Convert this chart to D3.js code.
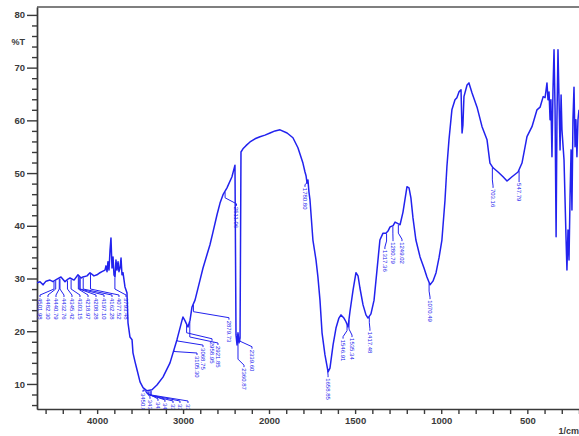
<!DOCTYPE html>
<html>
<head>
<meta charset="utf-8">
<script src="https://cdn.jsdelivr.net/npm/d3@7"></script>
<style>
body { margin: 0; background: #fff; }
text { font-family: "Liberation Sans", Arial, sans-serif; }
</style>
</head>
<body>
<svg id="chart" width="579" height="436"></svg>
<script>
// spectrum (1/cm, %T)
const wavenumbers = [
	4700, 4665, 4630, 4595, 4549, 4514, 4467, 4421, 4374, 4339, 4316, 4269, 4223, 4188, 4165, 4118,
	4083, 4037, 4002, 3967, 3944, 3909, 3897, 3885, 3874, 3862, 3850, 3839, 3827, 3815, 3804, 3792,
	3781, 3769, 3757, 3746, 3734, 3722, 3711, 3699, 3687, 3676, 3653, 3641, 3618, 3594, 3583, 3559,
	3536, 3501, 3466, 3420, 3362, 3304, 3234, 3152, 3071, 3036, 3012, 3001, 2978, 2966, 2943, 2919,
	2896, 2861, 2803, 2768, 2722, 2687, 2652, 2605, 2570, 2535, 2489, 2431, 2396, 2384, 2372, 2361,
	2349, 2337, 2326, 2303, 2268, 2221, 2163, 2105, 2047, 1994, 1965, 1936, 1895, 1861, 1832, 1803,
	1791, 1785, 1779, 1774, 1768, 1762, 1745, 1727, 1716, 1704, 1692, 1675, 1657, 1646, 1628, 1611,
	1594, 1582, 1565, 1553, 1541, 1530, 1512, 1495, 1483, 1472, 1454, 1437, 1425, 1408, 1390, 1373,
	1356, 1338, 1321, 1309, 1297, 1280, 1268, 1251, 1239, 1222, 1199, 1187, 1176, 1164, 1147, 1123,
	1100, 1083, 1065, 1048, 1030, 1013, 996, 978, 967, 955, 938, 920, 909, 897, 885, 879,
	874, 868, 850, 839, 821, 792, 763, 734, 717, 699, 670, 641, 618, 589, 554, 531,
	502, 473, 444, 426, 408, 397, 391, 386, 380, 374, 368, 363, 357, 351, 345, 339,
	333, 328, 322, 316, 310, 304, 299, 287, 281, 275, 270, 264, 258, 252, 246, 241,
	235, 229, 223, 218, 212, 206, 200
];
const transmittance = [
	29.2, 29.4, 28.8, 29.5, 29.7, 29.4, 29.9, 30.3, 29.4, 29.9, 30.1, 29.7, 30.7, 30.1, 30.3, 30.5,
	31.1, 30.5, 30.7, 31.1, 31.3, 31.6, 32.4, 31.3, 33.2, 31.6, 35.4, 37.7, 32.0, 34.1, 30.7, 30.3,
	33.5, 31.6, 33.2, 31.3, 32.0, 33.9, 30.7, 31.1, 29.7, 28.4, 27.3, 21.6, 18.9, 18.4, 15.9, 14.2,
	12.7, 10.4, 9.3, 8.7, 8.9, 9.8, 11.3, 14.0, 18.4, 20.6, 22.1, 22.7, 22.0, 21.6, 20.8, 22.1,
	24.6, 25.9, 29.7, 32.0, 34.5, 36.4, 38.8, 42.1, 44.3, 45.9, 47.2, 49.3, 51.5, 19.3, 17.4, 19.7,
	17.8, 18.7, 54.0, 54.6, 55.2, 55.9, 56.5, 56.9, 57.2, 57.6, 58.0, 58.2, 57.6, 56.7, 54.8, 51.9,
	50.2, 49.5, 48.1, 48.7, 46.4, 44.9, 37.3, 33.5, 30.3, 25.9, 19.7, 15.5, 12.3, 13.0, 17.4, 20.6,
	22.5, 23.1, 22.5, 21.8, 20.8, 23.7, 27.8, 31.1, 30.5, 28.2, 25.0, 23.1, 22.5, 23.3, 25.9, 31.6,
	37.3, 38.6, 38.6, 39.0, 39.8, 40.0, 40.7, 40.4, 40.2, 42.6, 47.4, 47.2, 45.3, 41.5, 37.3, 34.1,
	32.0, 30.3, 28.8, 29.5, 31.1, 33.9, 37.3, 44.9, 51.2, 56.3, 62.0, 63.9, 64.3, 65.4, 65.8, 57.6,
	59.1, 64.5, 66.7, 67.1, 65.2, 62.5, 58.8, 56.3, 51.9, 51.0, 50.2, 49.3, 48.5, 49.3, 50.2, 51.9,
	56.9, 58.8, 62.0, 62.5, 64.5, 64.3, 65.8, 67.1, 63.9, 65.4, 60.1, 63.9, 53.1, 65.8, 73.4, 62.0,
	37.9, 60.1, 73.4, 63.9, 54.4, 64.8, 58.2, 52.5, 44.9, 37.3, 31.6, 39.2, 33.5, 45.5, 54.4, 43.0,
	60.1, 66.3, 55.0, 60.1, 53.1, 60.1, 62.0
];

// peak labels
const peakLabels = [
	"4501.98", "4482.30", "4440.79", "4432.76", "4345.42", "4303.15", "4218.97", "4208.28",
	"4197.10", "4162.28", "4077.52", "3793.48",
	"3450.89", "3437.70", "3425.21", "3410.35", "3398.64", "3383.12", "3371.05",
	"3105.30", "3068.75", "2958.95", "2921.85", "2879.73", "2511.06", "2360.87", "2339.60",
	"1780.80", "1658.85", "1546.91", "1535.34", "1417.48", "1317.36", "1280.79", "1249.02",
	"1070.49", "703.16", "547.79"
];
// where each label column stands (1/cm) and where its top sits (%T)
const labelAt = [
	4665, 4572, 4479, 4386, 4293, 4200, 4106, 4013, 3920, 3827, 3746, 3664,
	3466, 3385, 3292, 3211, 3117, 3036, 2943,
	2838, 2768, 2663, 2594, 2466, 2378, 2291, 2198,
	1791, 1657, 1570, 1518, 1414, 1327, 1280, 1228,
	1065, 699, 548
];
const labelTop = [
	26.3, 26.3, 26.3, 26.3, 26.3, 26.3, 26.3, 26.3, 26.3, 26.3, 26.3, 26.3,
	8.3, 7.0, 6.6, 6.4, 6.2, 6.2, 6.2,
	15.3, 16.8, 18.0, 17.2, 22.0, 43.6, 13.0, 16.5,
	47.2, 11.1, 18.4, 18.7, 19.9, 35.4, 36.9, 36.9,
	25.9, 47.0, 48.1
];

const yMajor = [10, 20, 30, 40, 50, 60, 70, 80];
const xTickLabels = [4000, 3000, 2000, 1500, 1000, 500];

const blue = "#2222ee";
const axisColor = "#3a3a3a";

const chart = d3.select("#chart");

// the axis changes scale at 2000 1/cm
const x = d3.scaleLinear().domain([4700, 2000, 200]).range([37, 269, 579]);
const y = d3.scaleLinear().domain([5.25, 81.5]).range([409, 7]);

chart.append("defs").append("clipPath")
	.attr("id", "plot")
	.append("rect")
	.attr("x", 37).attr("y", 7)
	.attr("width", 542).attr("height", 402);

// axes
const xTicks = d3.range(4600, 2000, -200).concat(d3.range(2000, 199, -100));
const xaxis = chart.append("g")
	.attr("transform", "translate(0," + y.range()[0] + ")")
	.call(d3.axisBottom(x)
		.tickValues(xTicks)
		.tickSize(5)
		.tickSizeOuter(0)
		.tickPadding(3)
		.tickFormat(function(d) { return xTickLabels.includes(d) ? d : ""; }));

const yMinor = d3.range(6, 81, 2).filter(function(d) { return !yMajor.includes(d); });
const yaxisMinor = chart.append("g")
	.attr("transform", "translate(" + x.range()[0] + ",0)")
	.call(d3.axisLeft(y).tickValues(yMinor).tickSize(5).tickSizeOuter(0).tickFormat(""));
const yaxis = chart.append("g")
	.attr("transform", "translate(" + x.range()[0] + ",0)")
	.call(d3.axisLeft(y).tickValues(yMajor).tickSize(10).tickSizeOuter(0).tickPadding(2));

chart.selectAll(".domain, .tick line")
	.attr("stroke", axisColor)
	.attr("stroke-width", 1.4);
chart.selectAll(".tick text")
	.attr("fill", axisColor)
	.attr("font-size", "9.5px")
	.attr("font-weight", "bold")
	.attr("font-family", "'Liberation Sans', Arial, sans-serif");

// top frame
chart.append("line")
	.attr("x1", 37).attr("x2", 579)
	.attr("y1", y.range()[1]).attr("y2", y.range()[1])
	.attr("stroke", "#555")
	.attr("stroke-width", 1.4);

chart.append("text")
	.text("%T")
	.attr("x", 25).attr("y", 45)
	.attr("text-anchor", "end")
	.attr("font-size", "9px")
	.attr("font-weight", "bold")
	.attr("fill", axisColor);

chart.append("text")
	.text("1/cm")
	.attr("x", 579).attr("y", 434)
	.attr("text-anchor", "end")
	.attr("font-size", "9px")
	.attr("font-weight", "bold")
	.attr("fill", axisColor);

// spectrum
const spectrum = wavenumbers.map(function(w, i) { return [w, transmittance[i]]; });
const plot = chart.append("g").attr("clip-path", "url(#plot)");

plot.append("path")
	.datum(spectrum)
	.attr("fill", "none")
	.attr("stroke", blue)
	.attr("stroke-width", 1.5)
	.attr("stroke-linejoin", "round")
	.attr("d", d3.line()
		.x(function(d) { return x(d[0]); })
		.y(function(d) { return y(d[1]); }));

// %T of the trace at a wavenumber
function tAt(w) {
	for (let i = 1; i < wavenumbers.length; i++) {
		if (wavenumbers[i] <= w) {
			const w0 = wavenumbers[i - 1], w1 = wavenumbers[i];
			const f = (w0 - w) / (w0 - w1);
			return transmittance[i - 1] + f * (transmittance[i] - transmittance[i - 1]);
		}
	}
	return transmittance[transmittance.length - 1];
}

const peaks = peakLabels.map(function(s, i) {
	return { text: s, wn: +s, at: labelAt[i], top: labelTop[i] };
});

const marks = plot.append("g");

marks.selectAll("path")
	.data(peaks)
	.enter()
	.append("path")
	.attr("fill", "none")
	.attr("stroke", blue)
	.attr("stroke-width", 1)
	.attr("d", function(d) {
		const xp = x(d.wn), yp = y(tAt(d.wn));
		const xl = x(d.at), yt = y(d.top);
		const yb = Math.max(yp + 2, yt - 9);
		return "M" + xp + "," + (yp + 1) + "V" + yb + "L" + xl + "," + (yt - 3) + "V" + (yt - 1);
	});

marks.selectAll("text")
	.data(peaks)
	.enter()
	.append("text")
	.text(function(d) { return d.text; })
	.attr("font-size", "6px")
	.attr("fill", blue)
	.attr("dy", "0.35em")
	.attr("transform", function(d) {
		return "translate(" + x(d.at) + "," + y(d.top) + ") rotate(90)";
	});
</script>
</body>
</html>
